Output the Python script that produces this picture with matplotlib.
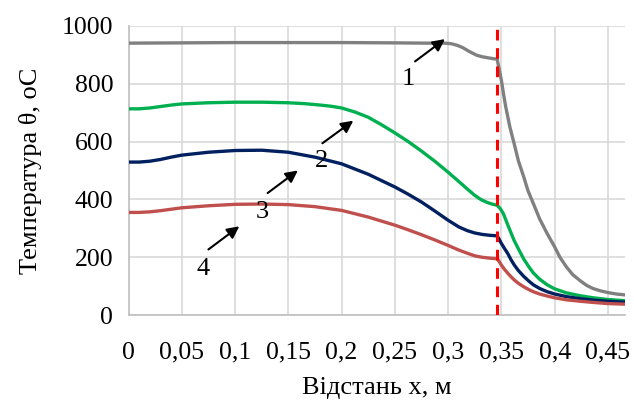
import matplotlib.pyplot as plt

# Temperature profiles along the distance x
x1 = [0, 0.05, 0.1, 0.15, 0.2, 0.25, 0.28, 0.297, 0.303, 0.309, 0.314, 0.320, 0.327, 0.332,
      0.338, 0.343, 0.346, 0.348, 0.350, 0.352, 0.354, 0.358, 0.362, 0.366, 0.371, 0.375,
      0.380, 0.386, 0.393, 0.400, 0.405, 0.411, 0.417, 0.424, 0.430, 0.436, 0.443, 0.450,
      0.458, 0.466]
t1 = [940, 941, 942, 942, 942, 941, 940, 940, 938, 932, 924, 911, 898, 893,
      889, 886, 885, 850, 812, 765, 722, 650, 593, 533, 478, 430,
      386, 332, 282, 236, 200, 167, 140, 119, 103, 92, 84, 78,
      73, 70]

x2 = [0, 0.01, 0.02, 0.03, 0.04, 0.05, 0.075, 0.1, 0.125, 0.15, 0.165, 0.18, 0.19, 0.2,
      0.2125, 0.225, 0.2375, 0.25, 0.2625, 0.275, 0.2875, 0.3, 0.31, 0.318, 0.325, 0.331,
      0.337, 0.342, 0.346, 0.349, 0.352, 0.356, 0.362, 0.367, 0.371, 0.376, 0.380, 0.386,
      0.393, 0.400, 0.411, 0.424, 0.436, 0.450, 0.466]
t2 = [713, 713, 716, 721, 726, 730, 734, 736, 736, 734, 731, 726, 722, 716,
      702, 684, 658, 630, 600, 567, 532, 494, 462, 436, 414, 399,
      389, 383, 380, 368, 350, 312, 258, 222, 194, 166, 146, 124,
      105, 91, 77, 67, 60, 54, 50]

x3 = [0, 0.01, 0.02, 0.03, 0.04, 0.05, 0.075, 0.1, 0.125, 0.15, 0.175, 0.2, 0.225, 0.25,
      0.2625, 0.275, 0.2875, 0.3, 0.31, 0.318, 0.325, 0.332, 0.339, 0.346, 0.348, 0.350,
      0.353, 0.356, 0.359, 0.362, 0.366, 0.371, 0.376, 0.380, 0.386, 0.393, 0.400, 0.411,
      0.424, 0.436, 0.450, 0.466]
t3 = [529, 529, 532, 538, 546, 553, 563, 569, 570, 563, 546, 523, 487, 443,
      418, 391, 360, 328, 305, 292, 284, 279, 276, 274, 262, 248,
      230, 213, 192, 174, 154, 134, 117, 105, 92, 81, 73, 64,
      57, 52, 48, 45]

x4 = [0, 0.01, 0.02, 0.03, 0.04, 0.05, 0.075, 0.1, 0.125, 0.15, 0.175, 0.2, 0.225, 0.25,
      0.2625, 0.275, 0.2875, 0.3, 0.31, 0.318, 0.325, 0.332, 0.339, 0.346, 0.348, 0.350,
      0.353, 0.356, 0.359, 0.362, 0.366, 0.371, 0.376, 0.380, 0.386, 0.393, 0.400, 0.411,
      0.424, 0.436, 0.450, 0.466]
t4 = [355, 355, 357, 361, 366, 371, 378, 383, 384, 382, 375, 362, 339, 311,
      295, 278, 260, 241, 225, 214, 205, 200, 197, 195, 185, 173,
      158, 145, 133, 122, 110, 98, 88, 81, 73, 66, 60, 53,
      48, 44, 40, 38]

boundary_x = 0.346

xticks = [0, 0.05, 0.1, 0.15, 0.2, 0.25, 0.3, 0.35, 0.4, 0.45]
xtick_labels = ['0', '0,05', '0,1', '0,15', '0,2', '0,25', '0,3', '0,35', '0,4', '0,45']
yticks = [0, 200, 400, 600, 800, 1000]

# curve number labels: (text, label pos, arrow tail, arrow head)
labels = ['1', '2', '3', '4']
label_pos = [(0.263, 816), (0.181, 534), (0.1255, 356), (0.070, 161)]
arrow_tail = [(0.269, 877), (0.182, 594), (0.1306, 422), (0.075, 227)]
arrow_head = [(0.297, 954), (0.211, 672), (0.159, 500), (0.104, 307)]

plt.rcParams['font.family'] = ['Liberation Serif', 'DejaVu Serif']

fig = plt.figure(figsize=(6.34, 4.03), dpi=100)
ax = fig.add_axes([0.2027, 0.218, 0.783, 0.718])

style = dict(lw=2.4, zorder=3, solid_joinstyle='round', solid_capstyle='round')
ax.plot(x1, t1, color='#808080', **style)
ax.plot(x2, t2, color='#00b050', **style)
ax.plot(x3, t3, color='#002060', **style)
ax.plot(x4, t4, color='#c0504d', **style)
ax.axvline(boundary_x, color='#ff0000', lw=2.2, ls=(0, (3.5, 2.5)), zorder=4)

for txt, lp, tail, head in zip(labels, label_pos, arrow_tail, arrow_head):
    ax.annotate('', xy=head, xytext=tail,
                arrowprops=dict(arrowstyle='-|>', color='black', lw=1.5,
                                mutation_scale=18, shrinkA=0, shrinkB=0), zorder=5)
    ax.text(lp[0], lp[1], txt, fontsize=19, ha='center', va='center', zorder=5)

ax.set_xlim(0, 0.466)
ax.set_ylim(0, 1000)
ax.set_xticks(xticks)
ax.set_xticklabels(xtick_labels)
ax.set_yticks(yticks)
ax.tick_params(length=0, labelsize=18.5)
ax.tick_params(axis='x', pad=19)
ax.tick_params(axis='y', pad=11)
ax.grid(True, color='#d9d9d9', lw=1.2)
ax.set_axisbelow(True)
for s in ['top', 'right']:
    ax.spines[s].set_visible(False)
for s in ['left', 'bottom']:
    ax.spines[s].set_color('#bfbfbf')
    ax.spines[s].set_linewidth(1.2)

ax.set_xlabel('Відстань х, м', fontsize=19, labelpad=10)
ax.set_ylabel('Температура θ, оС', fontsize=19, labelpad=14)

fig.savefig('out.png', dpi=100)
